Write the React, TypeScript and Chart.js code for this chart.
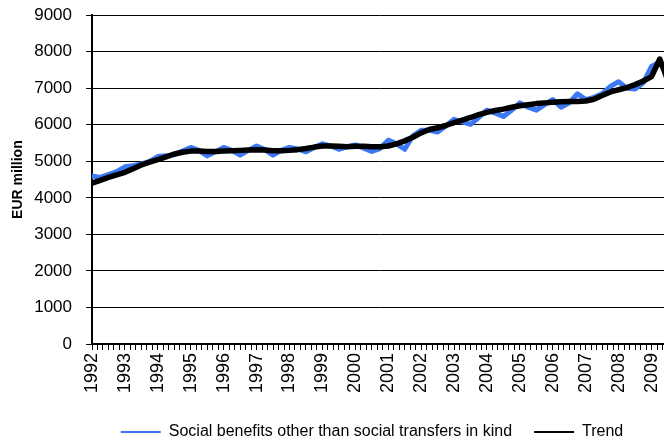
import { useEffect, useRef } from 'react';
import { Chart, registerables } from 'chart.js';

Chart.register(...registerables);

// Year tick labels (one per year, at the first quarter)
const yearLabels = [
  '1992', '1993', '1994', '1995', '1996', '1997', '1998', '1999', '2000',
  '2001', '2002', '2003', '2004', '2005', '2006', '2007', '2008', '2009',
];

// Quarterly values, 1992 Q1 – 2009 Q3, EUR million
const socialBenefits = [
  4600, 4560, 4640, 4720,
  4850, 4880, 4930, 5000,
  5130, 5150, 5180, 5280,
  5380, 5300, 5150, 5260,
  5380, 5300, 5170, 5300,
  5420, 5320, 5170, 5300,
  5380, 5340, 5260, 5380,
  5480, 5420, 5330, 5400,
  5450, 5360, 5270, 5350,
  5580, 5480, 5330, 5700,
  5850, 5850, 5800, 5970,
  6150, 6080, 6010, 6200,
  6400, 6320, 6230, 6400,
  6600, 6480, 6400, 6550,
  6690, 6480, 6600, 6850,
  6690, 6750, 6850, 7050,
  7180, 7000, 6980, 7150,
  7600, 7720, 7450,
];

const trend = [
  4400, 4480, 4560, 4630,
  4700, 4800, 4900, 4980,
  5050, 5120, 5200, 5250,
  5280, 5280, 5270, 5270,
  5280, 5290, 5300, 5310,
  5320, 5310, 5290, 5290,
  5300, 5320, 5350, 5390,
  5420, 5420, 5410, 5400,
  5410, 5410, 5400, 5400,
  5420, 5480, 5560, 5660,
  5780, 5870, 5920, 5980,
  6060, 6130, 6200, 6280,
  6340, 6390, 6430, 6480,
  6520, 6550, 6580, 6600,
  6620, 6630, 6640, 6640,
  6650, 6700, 6800, 6900,
  6960, 7020, 7100, 7200,
  7320, 7800, 7200,
];

const MONTHS_PER_QUARTER = 3;
const MONTHS_PER_YEAR = 12;
const FONT = '"Liberation Sans", Arial, sans-serif';

export default function App() {
  const ref = useRef<HTMLCanvasElement | null>(null);

  useEffect(() => {
    if (!ref.current) return;
    const toPoints = (arr: number[]) => arr.map((y, i) => ({ x: i * MONTHS_PER_QUARTER, y }));
    const lastX = (socialBenefits.length - 1) * MONTHS_PER_QUARTER;

    const chart = new Chart(ref.current, {
      type: 'line',
      data: {
        datasets: [
          {
            label: 'Social benefits other than social transfers in kind',
            data: toPoints(socialBenefits),
            borderColor: '#3b78f2',
            backgroundColor: '#3b78f2',
            borderWidth: 5,
            pointRadius: 0,
            tension: 0,
            borderJoinStyle: 'round',
            borderCapStyle: 'round',
            order: 1,
            yAxisID: 'y',
          },
          {
            label: 'Trend',
            data: toPoints(trend),
            borderColor: '#000000',
            backgroundColor: '#000000',
            borderWidth: 5.5,
            pointRadius: 0,
            tension: 0,
            borderJoinStyle: 'round',
            borderCapStyle: 'round',
            order: 0,
            yAxisID: 'y',
          },
        ],
      },
      options: {
        animation: false,
        responsive: false,
        layout: { padding: { top: 3, left: 0, right: 0, bottom: 0 } },
        scales: {
          x: {
            type: 'linear',
            min: 0,
            max: lastX,
            ticks: {
              stepSize: 2,
              autoSkip: false,
              maxTicksLimit: 1000,
              minRotation: 90,
              maxRotation: 90,
              padding: 3,
              color: '#000',
              font: { family: FONT, size: 18 },
              callback: (v: any) => {
                const n = Number(v);
                return n % MONTHS_PER_YEAR === 0 ? yearLabels[n / MONTHS_PER_YEAR] ?? '' : '';
              },
            },
            grid: { drawOnChartArea: false, color: '#000', tickLength: 6, lineWidth: 1 },
            border: { color: '#000', width: 2 },
            afterFit: (s: any) => { s.height = 58; },
          },
          y: {
            type: 'linear',
            position: 'left',
            min: 0,
            max: 9000,
            ticks: {
              stepSize: 1000,
              padding: 14,
              color: '#000',
              font: { family: FONT, size: 17 },
              callback: (v: any) => String(v),
            },
            grid: { color: '#000', tickLength: 6, lineWidth: 1 },
            border: { color: '#000', width: 2 },
            title: {
              display: true,
              text: 'EUR million',
              color: '#000',
              font: { family: FONT, size: 14, weight: 'bold' },
              padding: { top: 10, bottom: 0 },
            },
            afterFit: (s: any) => { s.width = 92; },
          },
          yRight: {
            type: 'linear',
            position: 'right',
            display: true,
            ticks: { display: false },
            grid: { display: false, drawTicks: false },
            border: { display: false },
            afterFit: (s: any) => { s.width = 76; },
          },
        },
        plugins: {
          legend: {
            position: 'bottom',
            labels: {
              boxWidth: 40,
              boxHeight: 2,
              padding: 22,
              color: '#000',
              font: { family: FONT, size: 16 },
              generateLabels: (c: any) =>
                c.data.datasets.map((ds: any, i: number) => ({
                  text: ds.label,
                  fillStyle: ds.borderColor,
                  strokeStyle: ds.borderColor,
                  lineWidth: 0,
                  hidden: false,
                  datasetIndex: i,
                  fontColor: '#000',
                })),
            },
          },
          tooltip: { enabled: false },
        },
      },
    } as any);

    return () => chart.destroy();
  }, []);

  return (
    <div
      style={{
        position: 'fixed',
        left: 0,
        top: 0,
        width: 664,
        height: 442,
        overflow: 'hidden',
        background: '#fff',
      }}
    >
      <canvas ref={ref} width={744} height={459} style={{ display: 'block', marginTop: -9 }} />
    </div>
  );
}
